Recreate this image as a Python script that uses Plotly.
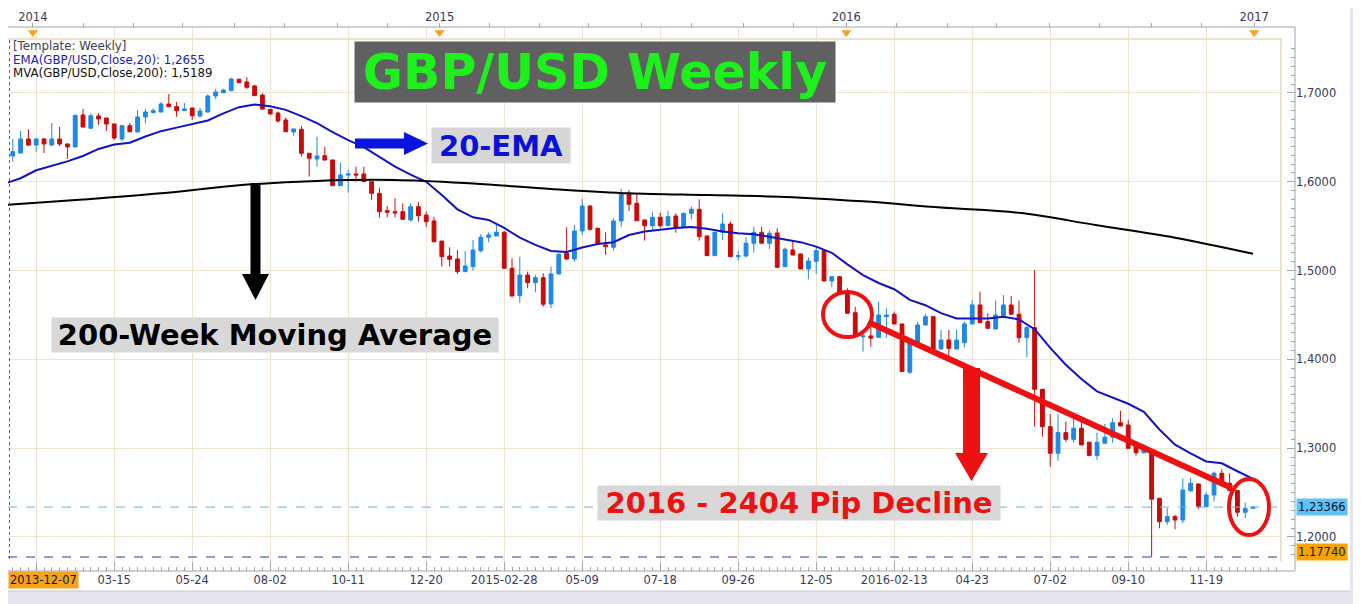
# GBP/USD weekly candles, 2013-12 .. 2017-01, with 20-EMA / 200-MVA and chart notes
import pandas as pd
import plotly.graph_objects as go

# the page body keeps its default 8px margin, so the figure starts at (8, 8)
OFF = 8
W, H = 1361 - OFF, 604 - OFF

# ---- data -------------------------------------------------------------------
bar_dates = pd.date_range("2013-12-07", periods=161, freq="7D")

opens = [
    1.6347, 1.6291, 1.6324, 1.6482, 1.6414, 1.6482, 1.6414, 1.6482, 1.6426, 1.6392,
    1.6752, 1.6603, 1.6741, 1.6718, 1.6651, 1.6482, 1.6632, 1.6561, 1.6730, 1.6780,
    1.6786, 1.6876, 1.6846, 1.6801, 1.6831, 1.6741, 1.6786, 1.6966, 1.7003, 1.7026,
    1.7154, 1.7124, 1.7079, 1.6977, 1.6816, 1.6775, 1.6696, 1.6561, 1.6591, 1.6321,
    1.6257, 1.6294, 1.6245, 1.5956, 1.6075, 1.6088, 1.6088, 1.6001, 1.5870, 1.5675,
    1.5663, 1.5663, 1.5570, 1.5720, 1.5626, 1.5559, 1.5333, 1.5164, 1.5131, 1.4988,
    1.5044, 1.5224, 1.5375, 1.5390, 1.5431, 1.5026, 1.4717, 1.4950, 1.4864, 1.4920,
    1.4624, 1.4962, 1.5195, 1.5131, 1.5446, 1.5727, 1.5476, 1.5288, 1.5262, 1.5559,
    1.5863, 1.5758, 1.5570, 1.5506, 1.5600, 1.5506, 1.5615, 1.5494, 1.5645, 1.5690,
    1.5390, 1.5168, 1.5431, 1.5525, 1.5157, 1.5164, 1.5308, 1.5431, 1.5308, 1.5424,
    1.5044, 1.5232, 1.5187, 1.5018, 1.5104, 1.5224, 1.4883, 1.4931, 1.4763, 1.4526,
    1.4254, 1.4264, 1.4249, 1.4481, 1.4508, 1.4399, 1.3855, 1.4181, 1.4387, 1.4481,
    1.4117, 1.4218, 1.4117, 1.4188, 1.4399, 1.4613, 1.4425, 1.4342, 1.4492, 1.4613,
    1.4508, 1.4244, 1.4357, 1.3663, 1.3242, 1.2943, 1.3175, 1.3100, 1.3224, 1.3067,
    1.2916, 1.3055, 1.3123, 1.3287, 1.3261, 1.3036, 1.2949, 1.2943, 1.2436, 1.2172,
    1.2229, 1.2191, 1.2520, 1.2597, 1.2341, 1.2473, 1.2718, 1.2605, 1.2522, 1.2278,
    1.2323,
]
highs = [
    1.6459, 1.6482, 1.6572, 1.6591, 1.6493, 1.6493, 1.6662, 1.6617, 1.6430, 1.6752,
    1.6820, 1.6771, 1.6775, 1.6720, 1.6655, 1.6640, 1.6662, 1.6809, 1.6820, 1.6828,
    1.6899, 1.6989, 1.6899, 1.6887, 1.6835, 1.6831, 1.6985, 1.7045, 1.7048, 1.7172,
    1.7161, 1.7177, 1.7093, 1.6996, 1.6820, 1.6789, 1.6726, 1.6598, 1.6628, 1.6324,
    1.6508, 1.6395, 1.6250, 1.6215, 1.6133, 1.6170, 1.6170, 1.6003, 1.5934, 1.5727,
    1.5814, 1.5758, 1.5758, 1.5773, 1.5663, 1.5607, 1.5333, 1.5262, 1.5232, 1.5221,
    1.5345, 1.5409, 1.5431, 1.5533, 1.5446, 1.5138, 1.5157, 1.4988, 1.4950, 1.4970,
    1.5044, 1.5195, 1.5488, 1.5514, 1.5806, 1.5739, 1.5483, 1.5431, 1.5589, 1.5916,
    1.5908, 1.5871, 1.5575, 1.5663, 1.5652, 1.5675, 1.5645, 1.5649, 1.5720, 1.5803,
    1.5393, 1.5435, 1.5645, 1.5551, 1.5224, 1.5375, 1.5494, 1.5494, 1.5449, 1.5476,
    1.5258, 1.5345, 1.5190, 1.5150, 1.5269, 1.5240, 1.4939, 1.4939, 1.4801, 1.4593,
    1.4320, 1.4368, 1.4650, 1.4575, 1.4537, 1.4400, 1.4185, 1.4425, 1.4511, 1.4489,
    1.4331, 1.4331, 1.4339, 1.4425, 1.4669, 1.4762, 1.4519, 1.4661, 1.4725, 1.4714,
    1.4661, 1.4376, 1.5007, 1.3665, 1.3385, 1.3385, 1.3298, 1.3337, 1.3355, 1.3070,
    1.3175, 1.3273, 1.3337, 1.3422, 1.3318, 1.3040, 1.3047, 1.2946, 1.2440, 1.2323,
    1.2248, 1.2661, 1.2661, 1.2600, 1.2504, 1.2736, 1.2762, 1.2718, 1.2525, 1.2386,
    1.2340,
]
lows = [
    1.6273, 1.6226, 1.6320, 1.6403, 1.6339, 1.6324, 1.6403, 1.6403, 1.6257, 1.6390,
    1.6610, 1.6598, 1.6640, 1.6572, 1.6471, 1.6459, 1.6555, 1.6555, 1.6662, 1.6767,
    1.6780, 1.6840, 1.6733, 1.6797, 1.6696, 1.6722, 1.6780, 1.6932, 1.6998, 1.7020,
    1.7110, 1.7048, 1.6966, 1.6809, 1.6758, 1.6666, 1.6561, 1.6516, 1.6283, 1.6058,
    1.6170, 1.6240, 1.5952, 1.5952, 1.5877, 1.6001, 1.5998, 1.5795, 1.5596, 1.5600,
    1.5600, 1.5575, 1.5551, 1.5551, 1.5494, 1.5322, 1.5044, 1.5044, 1.4962, 1.4985,
    1.4999, 1.5202, 1.5319, 1.5388, 1.5024, 1.4706, 1.4639, 1.4801, 1.4756, 1.4593,
    1.4575, 1.4960, 1.5120, 1.5100, 1.5401, 1.5449, 1.5298, 1.5176, 1.5224, 1.5494,
    1.5671, 1.5560, 1.5337, 1.5457, 1.5480, 1.5502, 1.5427, 1.5491, 1.5578, 1.5337,
    1.5165, 1.5165, 1.5345, 1.5153, 1.5112, 1.5150, 1.5202, 1.5303, 1.5243, 1.5035,
    1.5041, 1.5170, 1.5013, 1.4902, 1.4962, 1.4880, 1.4812, 1.4748, 1.4517, 1.4250,
    1.4087, 1.4143, 1.4241, 1.4241, 1.4395, 1.3858, 1.3836, 1.4178, 1.4383, 1.4110,
    1.4113, 1.4031, 1.4113, 1.4136, 1.4395, 1.4410, 1.4348, 1.4340, 1.4489, 1.4506,
    1.4188, 1.4024, 1.3242, 1.3130, 1.2792, 1.2859, 1.3073, 1.3062, 1.3033, 1.2913,
    1.2867, 1.3050, 1.3062, 1.3245, 1.2995, 1.2916, 1.2935, 1.1774, 1.2098, 1.2135,
    1.2087, 1.2154, 1.2510, 1.2315, 1.2338, 1.2398, 1.2602, 1.2518, 1.2229, 1.2211,
    1.2320,
]
closes = [
    1.6279, 1.6339, 1.6482, 1.6414, 1.6482, 1.6426, 1.6482, 1.6426, 1.6392, 1.6749,
    1.6617, 1.6744, 1.6707, 1.6651, 1.6493, 1.6632, 1.6564, 1.6730, 1.6786, 1.6801,
    1.6876, 1.6846, 1.6801, 1.6820, 1.6744, 1.6797, 1.6966, 1.7011, 1.7034, 1.7158,
    1.7116, 1.7064, 1.6970, 1.6820, 1.6764, 1.6685, 1.6564, 1.6595, 1.6321, 1.6265,
    1.6291, 1.6245, 1.5956, 1.6077, 1.6088, 1.6077, 1.6001, 1.5870, 1.5663, 1.5657,
    1.5650, 1.5578, 1.5720, 1.5618, 1.5551, 1.5325, 1.5157, 1.5127, 1.4988, 1.5052,
    1.5232, 1.5375, 1.5401, 1.5431, 1.5026, 1.4714, 1.4950, 1.4864, 1.4920, 1.4621,
    1.4962, 1.5184, 1.5131, 1.5446, 1.5727, 1.5465, 1.5300, 1.5269, 1.5559, 1.5863,
    1.5747, 1.5562, 1.5506, 1.5600, 1.5506, 1.5607, 1.5488, 1.5645, 1.5690, 1.5382,
    1.5168, 1.5431, 1.5525, 1.5157, 1.5168, 1.5308, 1.5431, 1.5308, 1.5420, 1.5037,
    1.5240, 1.5176, 1.5018, 1.5108, 1.5224, 1.4883, 1.4931, 1.4751, 1.4519, 1.4256,
    1.4264, 1.4238, 1.4500, 1.4500, 1.4399, 1.3862, 1.4181, 1.4387, 1.4481, 1.4117,
    1.4218, 1.4124, 1.4218, 1.4399, 1.4613, 1.4413, 1.4350, 1.4500, 1.4613, 1.4508,
    1.4244, 1.4357, 1.3663, 1.3242, 1.2943, 1.3175, 1.3100, 1.3224, 1.3036, 1.2916,
    1.3067, 1.3123, 1.3287, 1.3250, 1.2999, 1.2949, 1.2988, 1.2425, 1.2172, 1.2229,
    1.2191, 1.2529, 1.2605, 1.2341, 1.2473, 1.2718, 1.2605, 1.2522, 1.2278, 1.2323,
    1.23366,
]

# indicator readings: EMA every 2nd bar, MVA every 10th bar
ema20 = [
    1.598, 1.604, 1.613, 1.618, 1.623, 1.629, 1.637, 1.642, 1.644, 1.651,
    1.657, 1.661, 1.665, 1.669, 1.677, 1.684, 1.687, 1.685, 1.681, 1.674,
    1.666, 1.656, 1.647, 1.639, 1.628, 1.617, 1.608, 1.600, 1.585, 1.569,
    1.560, 1.557, 1.548, 1.537, 1.529, 1.522, 1.521, 1.526, 1.530, 1.532,
    1.540, 1.544, 1.546, 1.548, 1.549, 1.547, 1.544, 1.542, 1.541, 1.538,
    1.535, 1.532, 1.527, 1.520, 1.507, 1.495, 1.486, 1.479, 1.467, 1.461,
    1.452, 1.446, 1.446, 1.446, 1.448, 1.445, 1.434, 1.413, 1.394, 1.378,
    1.364, 1.357, 1.350, 1.341, 1.321, 1.304, 1.294, 1.285, 1.283, 1.274,
    1.2655,
]
mva200 = [1.574, 1.580, 1.587, 1.596, 1.601, 1.602, 1.598, 1.592, 1.587,
          1.585, 1.583, 1.578, 1.571, 1.565, 1.551, 1.537, 1.5189]

price_ticks = [1.2, 1.3, 1.4, 1.5, 1.6, 1.7]
price_labels = ["1,2000", "1,3000", "1,4000", "1,5000", "1,6000", "1,7000"]

date_ticks = pd.date_range("2014-01-04", periods=16, freq="70D")
date_labels = ["", "03-15", "05-24", "08-02", "10-11", "12-20", "2015-02-28", "05-09",
               "07-18", "09-26", "12-05", "2016-02-13", "04-23", "07-02", "09-10", "11-19"]

year_ticks = ["2014-01-01", "2015-01-01", "2016-01-01", "2017-01-01"]
year_labels = ["2014", "2015", "2016", "2017"]

# ---- styling ----------------------------------------------------------------
BLUE_C = "#1E88E5"
RED_C = "#CC0A0A"
GRID = "#EFE4D2"
AXIS = "#A4A4AC"
TXT = "#3A3A58"
FONT = "DejaVu Sans"


def xp(px):
    """Screen pixel (page coords) -> paper x."""
    return (px - OFF) / W


def yp(py):
    """Screen pixel (page coords) -> paper y."""
    return 1 - (py - OFF) / H


def poly(points):
    return "M " + " L ".join(f"{xp(x):.5f},{yp(y):.5f}" for x, y in points) + " Z"


top_minor = [f"{y}-{md}" for y in range(2013, 2018)
             for md in ("01-01", "02-15", "04-01", "05-15", "07-01", "08-15", "10-01", "11-15")]

fig = go.Figure()

fig.add_trace(go.Candlestick(
    x=bar_dates, open=opens, high=highs, low=lows, close=closes,
    increasing=dict(line=dict(color=BLUE_C, width=1), fillcolor=BLUE_C),
    decreasing=dict(line=dict(color=RED_C, width=1), fillcolor=RED_C),
    whiskerwidth=0, hoverinfo="skip",
))
fig.add_trace(go.Scatter(x=bar_dates[::2], y=ema20, mode="lines",
                         line=dict(color="#1212C4", width=2), hoverinfo="skip"))
fig.add_trace(go.Scatter(x=bar_dates[::10], y=mva200, mode="lines",
                         line=dict(color="#000000", width=2, shape="spline"), hoverinfo="skip"))
fig.add_trace(go.Scatter(x=year_ticks, y=[0.5] * len(year_ticks), xaxis="x", yaxis="y3",
                         mode="markers", cliponaxis=False, hoverinfo="skip",
                         marker=dict(symbol="triangle-down", size=9, color="#F5A21E")))
# keeps the top (year) axis alive; nothing visible
fig.add_trace(go.Scatter(x=year_ticks, y=[None] * len(year_ticks), xaxis="x2", yaxis="y",
                         mode="markers", hoverinfo="skip", marker=dict(opacity=0)))

x_range = ["2013-12-09 16:37", "2017-01-25 02:24"]
y_range = [1.1718, 1.7608]

fig.update_layout(
    template="none",
    width=W, height=H,
    margin=dict(l=0, r=0, t=0, b=0),
    paper_bgcolor="#E4E4EE",
    plot_bgcolor="rgba(0,0,0,0)",
    showlegend=False,
    font=dict(family=FONT, size=11, color=TXT),
    xaxis=dict(
        type="date", range=x_range, domain=[xp(8), xp(1281)],
        anchor="free", position=yp(571),
        tickmode="array", tickvals=date_ticks, ticktext=date_labels,
        ticks="inside", ticklen=9, tickcolor=AXIS,
        showgrid=True, gridcolor=GRID, gridwidth=1,
        showline=False, zeroline=False,
        rangeslider=dict(visible=False),
        minor=dict(tick0="2013-12-07", dtick=7 * 24 * 3600 * 1000,
                   ticks="inside", ticklen=4, tickcolor=AXIS, showgrid=False),
        tickfont=dict(family=FONT, size=11.5, color=TXT),
    ),
    xaxis2=dict(
        type="date", range=x_range, overlaying="x", side="top",
        anchor="free", position=yp(27),
        tickmode="array", tickvals=year_ticks, ticktext=year_labels,
        ticks="outside", ticklen=1, tickcolor=AXIS,
        minor=dict(tickmode="array", tickvals=top_minor, ticks="outside",
                   ticklen=4, tickcolor=AXIS, showgrid=False),
        showgrid=False, showline=False, zeroline=False,
        tickfont=dict(family=FONT, size=11.5, color=TXT),
    ),
    yaxis=dict(
        range=y_range, domain=[yp(562), yp(39)],
        anchor="free", position=xp(1295), side="right",
        tickmode="array", tickvals=price_ticks, ticktext=price_labels,
        ticks="inside", ticklen=8, tickcolor=AXIS,
        minor=dict(dtick=0.01, ticks="inside", ticklen=4, tickcolor=AXIS, showgrid=False),
        showgrid=True, gridcolor=GRID, gridwidth=1,
        showline=False, zeroline=False,
        tickfont=dict(family=FONT, size=11.5, color=TXT),
    ),
    yaxis3=dict(domain=[yp(38), yp(27)], range=[0, 1], visible=False, anchor="x"),
)

shapes = [
    # panel and borders
    dict(type="rect", xref="paper", yref="paper", x0=xp(0), x1=xp(1350), y0=yp(591), y1=yp(8),
         fillcolor="white", line_width=0, layer="below"),
    dict(type="line", xref="paper", yref="paper", x0=xp(0), x1=xp(1350), y0=yp(591), y1=yp(591),
         line=dict(color="#C8C8D4", width=1)),
    # plot frame and axis lines
    dict(type="line", xref="paper", yref="paper", x0=xp(3), x1=xp(1281), y0=yp(39), y1=yp(39),
         line=dict(color="#E6D8BE", width=1.5)),
    dict(type="line", xref="paper", yref="paper", x0=xp(1281), x1=xp(1281), y0=yp(39), y1=yp(562),
         line=dict(color="#E6D8BE", width=1.5)),
    dict(type="line", xref="paper", yref="paper", x0=xp(3), x1=xp(1295), y0=yp(27), y1=yp(27),
         line=dict(color=AXIS, width=1)),
    dict(type="line", xref="paper", yref="paper", x0=xp(1295), x1=xp(1295), y0=yp(27), y1=yp(571),
         line=dict(color=AXIS, width=1)),
    dict(type="line", xref="paper", yref="paper", x0=xp(3), x1=xp(1295), y0=yp(571), y1=yp(571),
         line=dict(color=AXIS, width=1)),
    # current price, period low, cursor
    dict(type="line", xref="paper", yref="y", x0=xp(8), x1=xp(1281), y0=closes[-1], y1=closes[-1],
         line=dict(color="#5AB6EA", width=1, dash="dash")),
    dict(type="line", xref="paper", yref="y", x0=xp(8), x1=xp(1281), y0=min(lows), y1=min(lows),
         line=dict(color="#22409A", width=1, dash="dash")),
    dict(type="line", xref="paper", yref="paper", x0=xp(9.5), x1=xp(9.5), y0=yp(40), y1=yp(562),
         line=dict(color="#3A62C0", width=1, dash="dot")),
    # analysis marks
    dict(type="line", xref="x", yref="y", x0="2016-01-20 12:00", x1="2016-12-12",
         y0=1.4421, y1=1.2552, line=dict(color="#EE1111", width=6)),
    dict(type="path", xref="paper", yref="paper", fillcolor="#0A14E0", line_width=0,
         path=poly([(355, 138.5), (404, 138.5), (404, 132), (428, 143.5),
                    (404, 155), (404, 148.5), (355, 148.5)])),
    dict(type="path", xref="paper", yref="paper", fillcolor="#000000", line_width=0,
         path=poly([(250.5, 183), (260.5, 183), (260.5, 274), (269, 274),
                    (255.5, 300), (242, 274), (250.5, 274)])),
    dict(type="path", xref="paper", yref="paper", fillcolor="#EE1111", line_width=0,
         path=poly([(963, 368), (980, 368), (980, 453), (988, 453),
                    (971.5, 481), (955, 453), (963, 453)])),
    dict(type="circle", xref="paper", yref="paper", x0=xp(823), x1=xp(872), y0=yp(337), y1=yp(292),
         line=dict(color="#EE1111", width=4)),
    dict(type="circle", xref="paper", yref="paper", x0=xp(1229), x1=xp(1269), y0=yp(535), y1=yp(479),
         line=dict(color="#EE1111", width=4)),
]
fig.update_layout(shapes=shapes)


def note(text, cx, cy, w, h, color, bg, size=29):
    return dict(text=f"<b>{text}</b>", xref="paper", yref="paper", x=xp(cx), y=yp(cy),
                xanchor="center", yanchor="middle", width=w, height=h, showarrow=False,
                bgcolor=bg, borderpad=0, font=dict(family=FONT, size=size, color=color))


def label(text, x, y, color, yref="paper", bg=None, size=11.5):
    return dict(text=text, xref="paper", yref=yref, x=xp(x), y=y if yref != "paper" else yp(y),
                xanchor="left", yanchor="middle", showarrow=False, bgcolor=bg, borderpad=1,
                font=dict(family=FONT, size=size, color=color))


annotations = [
    note("GBP/USD Weekly", 595, 72, 480, 60, "#1DF01D", "#606060", size=49),
    note("20-EMA", 501, 145.5, 138, 35, "#0A12D8", "#D6D6D6"),
    note("200-Week Moving Average", 275, 335, 446, 34, "#000000", "#D8D8D8"),
    note("2016 - 2404 Pip Decline", 799, 503, 402, 34, "#EE1111", "#D8D8D8"),
    label("[Template: Weekly]", 11, 46, "#404052", size=11.8),
    label(f"EMA(GBP/USD.Close,20): {ema20[-1]:.4f}".replace(".", ","), 11, 60, "#1A1AC8", size=11.8),
    label(f"MVA(GBP/USD.Close,200): {mva200[-1]:.4f}".replace(".", ","), 11, 73, "#111111", size=11.8),
    label(f"{closes[-1]:.5f}".replace(".", ","), 1296, closes[-1], "#101030",
          yref="y", bg="#5CC3F3"),
    label(f"{min(lows):.5f}", 1296, 552, "#201800", bg="#F4A300"),
    label(bar_dates[0].strftime("%Y-%m-%d"), 8, 580, "#111111", bg="#F5A31A"),
]
fig.update_layout(annotations=annotations)

fig.write_html("out.html")
